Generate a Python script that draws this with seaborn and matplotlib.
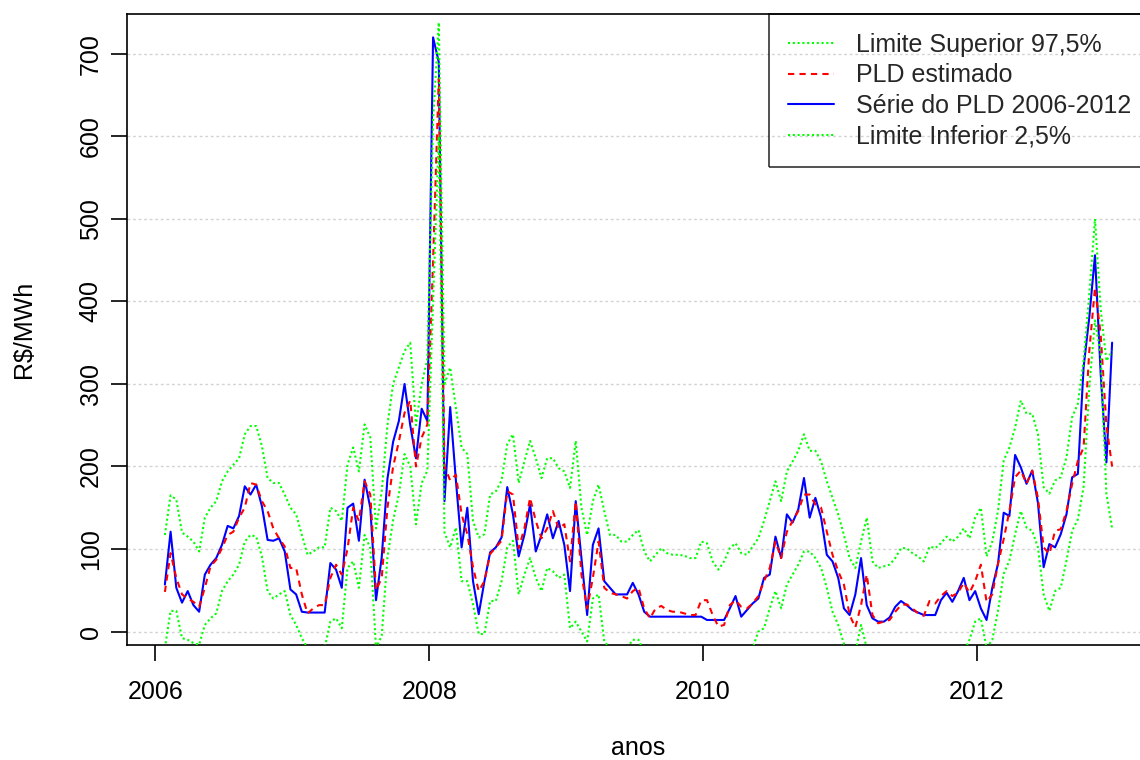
import numpy as np
import pandas as pd
import matplotlib
matplotlib.use("Agg")
import matplotlib.pyplot as plt
import seaborn as sns
from matplotlib.lines import Line2D

# ---------------- data (semi-monthly readings, R$/MWh) ----------------
inicio = 2006.07
passo = 1 / 24
pld = [
    57, 121, 53, 35, 49, 32, 24, 69, 81, 89,
    105, 128, 125, 140, 176, 166, 178, 152, 111, 110,
    113, 97, 51, 45, 24, 23, 23, 23, 23, 83,
    75, 53, 150, 155, 110, 184, 150, 38, 90, 185,
    230, 255, 300, 250, 210, 270, 255, 720, 690, 158,
    272, 183, 102, 150, 61, 21, 61, 96, 102, 114,
    175, 142, 91, 117, 154, 97, 117, 142, 113, 134,
    105, 49, 158, 89, 20, 105, 125, 61, 53, 45,
    45, 45, 59, 45, 24, 18, 18, 18, 18, 18,
    18, 18, 18, 18, 18, 14, 14, 14, 14, 28,
    43, 18, 26, 34, 40, 65, 69, 115, 89, 142,
    132, 148, 186, 138, 162, 138, 93, 85, 65, 28,
    20, 45, 89, 32, 16, 12, 12, 17, 30, 37,
    32, 26, 23, 20, 20, 20, 38, 47, 36, 49,
    65, 38, 49, 28, 14, 53, 82, 144, 140, 214,
    199, 179, 195, 156, 78, 106, 102, 118, 142, 187,
    191, 320, 381, 456, 312, 205, 350,
]
estimado = [
    48, 95, 65, 45, 40, 36, 30, 53, 79, 87,
    101, 117, 121, 138, 150, 180, 178, 158, 146, 125,
    113, 103, 77, 77, 45, 22, 28, 32, 32, 65,
    81, 69, 100, 150, 134, 182, 166, 50, 65, 150,
    200, 230, 265, 280, 200, 235, 251, 450, 670, 200,
    183, 190, 142, 118, 78, 49, 61, 94, 102, 110,
    170, 166, 101, 125, 162, 134, 113, 125, 146, 125,
    130, 85, 158, 69, 28, 65, 109, 53, 47, 45,
    43, 40, 49, 53, 28, 16, 28, 31, 26, 24,
    24, 22, 20, 20, 38, 38, 20, 6, 8, 32,
    38, 30, 28, 34, 43, 61, 77, 109, 89, 121,
    134, 146, 166, 166, 154, 150, 121, 93, 73, 57,
    20, 5, 32, 69, 20, 10, 12, 14, 24, 32,
    33, 28, 22, 19, 37, 34, 43, 49, 43, 47,
    59, 47, 61, 81, 36, 45, 82, 112, 146, 187,
    195, 179, 195, 162, 102, 94, 122, 124, 146, 179,
    207, 223, 340, 417, 360, 250, 200,
]
lim_sup = [
    117, 165, 160, 120, 115, 109, 97, 138, 150, 158,
    182, 194, 202, 210, 239, 249, 249, 225, 186, 180,
    180, 166, 150, 142, 117, 93, 97, 102, 102, 150,
    146, 134, 202, 223, 194, 251, 235, 125, 170, 250,
    300, 320, 340, 350, 250, 300, 330, 620, 738, 300,
    320, 271, 223, 215, 134, 114, 118, 166, 170, 183,
    227, 239, 180, 206, 231, 210, 186, 210, 210, 198,
    194, 174, 231, 150, 117, 158, 178, 146, 117, 117,
    109, 109, 117, 123, 97, 85, 93, 101, 95, 93,
    93, 92, 89, 89, 109, 107, 85, 75, 85, 101,
    107, 95, 93, 103, 113, 134, 158, 182, 158, 194,
    206, 219, 239, 219, 219, 206, 182, 162, 142, 117,
    89, 77, 109, 138, 85, 77, 79, 81, 89, 101,
    101, 95, 91, 85, 103, 101, 107, 115, 109, 115,
    125, 113, 138, 150, 91, 109, 146, 207, 223, 247,
    280, 264, 264, 239, 175, 167, 183, 187, 211, 260,
    276, 328, 409, 500, 390, 328, 340,
]
lim_inf = [
    -20, 25, 25, -8, -10, -14, -16, 8, 16, 22,
    49, 61, 69, 81, 109, 117, 115, 91, 49, 40,
    45, 49, 20, 8, -8, -20, -20, -20, -20, 12,
    16, 4, 77, 85, 53, 117, 101, -20, -5, 90,
    135, 166, 215, 200, 130, 180, 195, 400, 600, 120,
    102, 126, 61, 61, 33, -3, -3, 37, 37, 61,
    102, 110, 45, 69, 89, 65, 49, 77, 73, 65,
    69, 4, 12, 0, -12, 40, 45, -12, -20, -20,
    -20, -20, -10, -10, -25, -30, -30, -30, -30, -30,
    -30, -30, -30, -30, -30, -30, -30, -30, -30, -30,
    -30, -25, -25, -20, 0, 4, 28, 49, 28, 57,
    69, 81, 97, 97, 89, 77, 53, 24, 8, -15,
    -25, -25, 8, -20, -25, -30, -30, -30, -30, -30,
    -30, -30, -30, -30, -30, -30, -30, -30, -30, -30,
    -25, -10, 12, 16, -20, -10, 25, 70, 86, 118,
    146, 126, 122, 102, 45, 25, 49, 53, 86, 122,
    136, 175, 296, 377, 336, 167, 125,
]
x_ticks = [2006, 2008, 2010, 2012]
y_ticks = [0, 100, 200, 300, 400, 500, 600, 700]
rotulos = ["Limite Superior 97,5%", "PLD estimado",
           "Série do PLD 2006-2012", "Limite Inferior 2,5%"]

n = len(pld)
assert len(estimado) == n and len(lim_sup) == n and len(lim_inf) == n
anos = inicio + np.arange(n) * passo

df = pd.DataFrame({"anos": anos, "pld": pld, "estimado": estimado,
                   "sup": lim_sup, "inf": lim_inf})

# ---------------- style ----------------
sns.set_theme(style="white")
plt.rcParams["font.family"] = ["Liberation Sans", "DejaVu Sans"]

fig = plt.figure(figsize=(11.4, 7.6), dpi=100)
ax = fig.add_axes([127 / 1140, 115 / 760, 1023 / 1140, 631 / 760])

lw = 1.5
sns.lineplot(data=df, x="anos", y="pld", ax=ax, color="blue", linewidth=lw,
             linestyle="-", zorder=3)
sns.lineplot(data=df, x="anos", y="estimado", ax=ax, color="red", linewidth=lw,
             linestyle=(0, (3, 2.5)), zorder=4)
sns.lineplot(data=df, x="anos", y="sup", ax=ax, color="#00FF00", linewidth=lw,
             linestyle=(0, (1, 1.3)), zorder=5)
sns.lineplot(data=df, x="anos", y="inf", ax=ax, color="#00FF00", linewidth=lw,
             linestyle=(0, (1, 1.3)), zorder=5)

# axis ranges in the manner of R (4% extension of data range)
x0, x1 = anos[0], anos[-1]
dx = (x1 - x0) * 0.04
ax.set_xlim(x0 - dx, x1 + dx)
y0, y1 = min(pld), max(pld)
dy = (y1 - y0) * 0.04
ax.set_ylim(y0 - dy, y1 + dy)

ax.set_xticks(x_ticks)
ax.set_xticklabels([str(v) for v in x_ticks])
ax.set_yticks(y_ticks)
ax.set_yticklabels([str(v) for v in y_ticks], rotation=90, va="center")

for s in ax.spines.values():
    s.set_color("black")
    s.set_linewidth(1.2)
    s.set_visible(True)

ax.tick_params(axis="both", which="major", direction="out", length=11.5,
               width=1.2, color="black", labelsize=18, labelcolor="black")
ax.tick_params(axis="x", pad=14, bottom=True)
ax.tick_params(axis="y", pad=6, left=True)

ax.yaxis.grid(True, color="#D3D3D3", linestyle=(0, (2, 2)), linewidth=1.0)
ax.xaxis.grid(False)
ax.set_axisbelow(True)

ax.set_xlabel("anos", fontsize=18, color="black", labelpad=23)
ax.set_ylabel("R$/MWh", fontsize=18, color="black", labelpad=31)

handles = [
    Line2D([], [], color="#00FF00", linewidth=lw, linestyle=(0, (1, 1.3))),
    Line2D([], [], color="red", linewidth=lw, linestyle=(0, (3, 2.5))),
    Line2D([], [], color="blue", linewidth=lw, linestyle="-"),
    Line2D([], [], color="#00FF00", linewidth=lw, linestyle=(0, (1, 1.3))),
]
leg = ax.legend(handles, rotulos, loc="upper right", bbox_to_anchor=(1, 1),
                bbox_transform=ax.transAxes, borderaxespad=0, frameon=True,
                fancybox=False, shadow=False, fontsize=18, handlelength=1.85,
                handletextpad=0.88, labelspacing=0.26, borderpad=0.75)
leg.get_frame().set_edgecolor("black")
leg.get_frame().set_linewidth(1.2)
leg.get_frame().set_facecolor("none")
leg.set_zorder(10)

fig.savefig("out.png", dpi=100)
